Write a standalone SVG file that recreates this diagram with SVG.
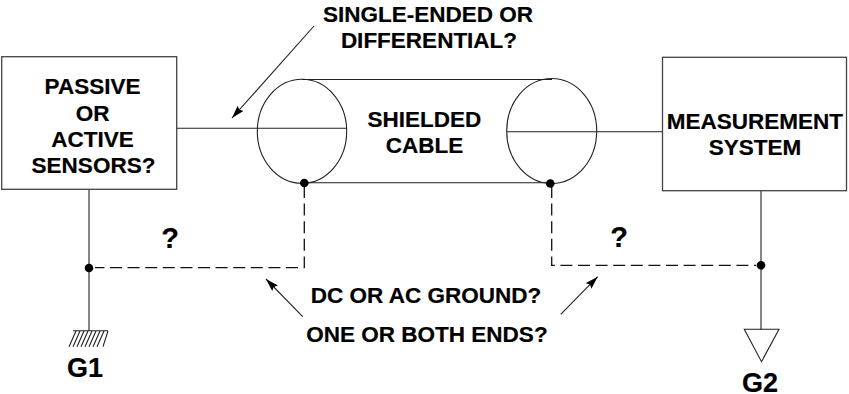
<svg xmlns="http://www.w3.org/2000/svg" width="849" height="394" viewBox="0 0 849 394">
<style>
text{font-family:"Liberation Sans",Arial,sans-serif;font-weight:bold;fill:#000;stroke:#000;stroke-width:.2;text-anchor:middle}
.t{font-size:22.500px}.q{font-size:29px}.g{font-size:27px}
.l{fill:none;stroke:#222;stroke-width:1.1}
.b{fill:#fff;stroke:#444;stroke-width:1.3}
.d{fill:none;stroke:#111;stroke-width:1.3;stroke-dasharray:12 5.600}
.n{fill:#000}
</style>
<defs>
<marker id="a" markerUnits="userSpaceOnUse" markerWidth="14" markerHeight="10" refX="13" refY="4" orient="auto"><path d="M0 0L13 4L0 8L2 4Z" fill="#000"/></marker>
</defs>
<rect width="849" height="394" fill="#fff"/>
<g id="connectors">
<path class="l" d="M177 128.300H258M597 131.700H663"/>
<path class="l" d="M302 79.500H552M302 182.700H552"/>
<path class="l" d="M89 190V331"/>
<path class="l" d="M761 190V329.500"/>
<path class="d" d="M304.300 186V267.700H95"/>
<path class="d" d="M551.700 186V265.300H756"/>
<path class="l" marker-end="url(#a)" d="M314 26L232 118"/>
<path class="l" marker-end="url(#a)" d="M302.700 316.700L266 279"/>
<path class="l" marker-end="url(#a)" d="M560.700 314.300L597.700 276.700"/>
</g>
<g id="sensor"><rect class="b" x="1.700" y="56.700" width="175" height="132.600"/>
<text class="t" x="92.500" y="94">PASSIVE</text><text class="t" x="92.500" y="120.500">OR</text><text class="t" x="92.500" y="146.500">ACTIVE</text><text class="t" x="93.500" y="172.500">SENSORS?</text></g>
<g id="measurement"><rect class="b" x="662.500" y="57.300" width="184" height="133.400"/>
<text class="t" x="755" y="128.500">MEASUREMENT</text><text class="t" x="755" y="155">SYSTEM</text></g>
<g id="cable">
<ellipse class="l" cx="302" cy="131.300" rx="44.700" ry="52"/>
<ellipse class="l" cx="551.700" cy="131" rx="45" ry="52.500"/>
<path class="l" d="M257.300 128.300H346.700M506.700 131.700H596.700"/>
<circle class="n" cx="304.300" cy="183" r="4.300"/><circle class="n" cx="550.300" cy="183.500" r="4.300"/>
<text class="t" x="424.500" y="126.500">SHIELDED</text><text class="t" x="424.500" y="153">CABLE</text></g>
<g id="junction-left"><circle class="n" cx="89" cy="268" r="4.300"/></g>
<g id="junction-right"><circle class="n" cx="761" cy="265.300" r="4.300"/></g>
<g id="g1"><path class="l" d="M73 330.700H108M76 331L69 346.700M80 331L73 346.700M84 331L77 346.700M88 331L81 346.700M92 331L85 346.700M96 331L89 346.700M100 331L93 346.700M104 331L97 346.700M108 331L103 346.700"/><text class="g" x="85" y="377">G1</text></g>
<g id="g2"><path class="l" d="M744.300 329.300H779L761.500 361.700Z"/><text class="g" x="760" y="392">G2</text></g>
<g id="labels">
<text class="t" x="428" y="22">SINGLE-ENDED OR</text><text class="t" x="429" y="48">DIFFERENTIAL?</text>
<text class="q" x="170" y="248">?</text><text class="q" x="619" y="247">?</text>
<text class="t" x="426" y="302.500">DC OR AC GROUND?</text><text class="t" x="427" y="341.500">ONE OR BOTH ENDS?</text>
</g>
</svg>
